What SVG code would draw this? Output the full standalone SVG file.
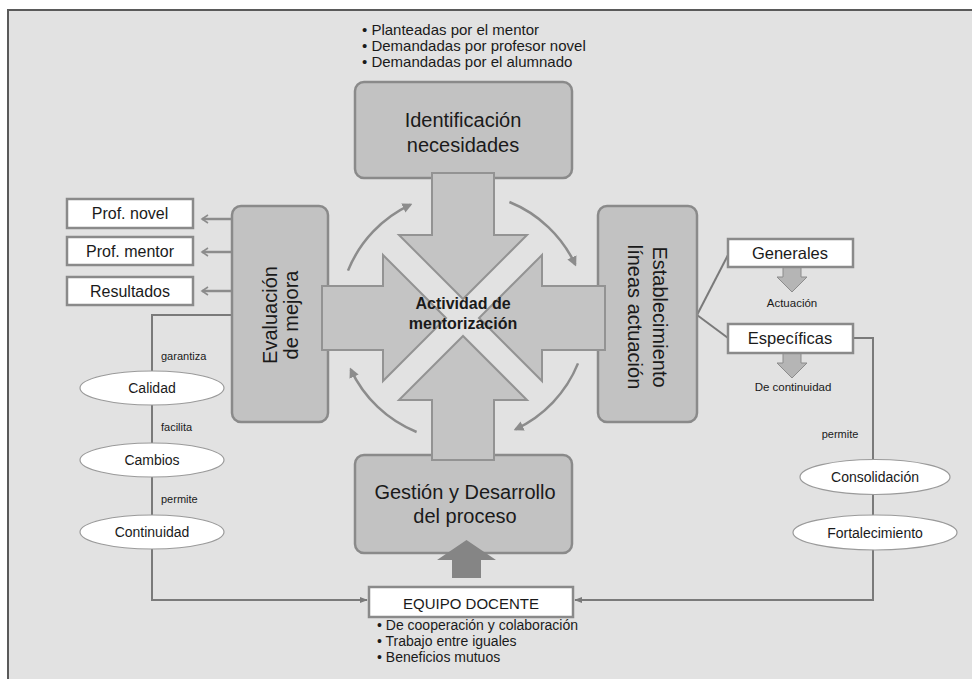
<svg xmlns="http://www.w3.org/2000/svg" width="972" height="679" viewBox="0 0 972 679">
<defs>
<style>
text{font-family:"Liberation Sans",Arial,sans-serif;fill:#1a1a1a}
.box{fill:#c2c2c2;stroke:#8a8a8a;stroke-width:2.5}
.wbox{fill:#ffffff;stroke:#8a8a8a;stroke-width:2.5}
.ell{fill:#ffffff;stroke:#9a9a9a;stroke-width:1.2}
.big{fill:#c4c4c4;stroke:#939393;stroke-width:2}
.conn{fill:none;stroke:#7a7a7a;stroke-width:2}
.arc{fill:none;stroke:#8c8c8c;stroke-width:2.5}
.t20{font-size:20px;text-anchor:middle}
.t16{font-size:16px;text-anchor:middle}
.t14{font-size:14px;text-anchor:middle}
.lbl{font-size:11px}
.bul{font-size:15px}
</style>
<marker id="tri" viewBox="0 0 10 10" refX="8" refY="5" markerWidth="4" markerHeight="4" orient="auto" markerUnits="strokeWidth"><path d="M0,0 L10,5 L0,10 z" fill="#8c8c8c"/></marker>
<marker id="tri2" viewBox="0 0 10 10" refX="9" refY="5" markerWidth="4" markerHeight="4" orient="auto" markerUnits="strokeWidth"><path d="M0,1 L10,5 L0,9 z" fill="#7a7a7a"/></marker>
<marker id="chev" viewBox="0 0 10 10" refX="8" refY="5" markerWidth="4" markerHeight="4" orient="auto" markerUnits="strokeWidth"><path d="M2,1 L8,5 L2,9" fill="none" stroke="#8c8c8c" stroke-width="1.6"/></marker>
</defs>
<rect x="0" y="0" width="972" height="679" fill="#ffffff"/>
<rect x="8" y="10" width="980" height="690" fill="#e2e2e2" stroke="#5a5a5a" stroke-width="2"/>

<g id="connectors">
<polyline class="conn" points="232,315 152,315 152,600 367,600" marker-end="url(#tri2)"/>
<polyline class="conn" points="853,338 873,338 873,600 575,600" marker-end="url(#tri2)"/>
<line class="conn" x1="697" y1="315" x2="728" y2="255" stroke="#8a8a8a"/>
<line class="conn" x1="697" y1="315" x2="728" y2="338" stroke="#8a8a8a"/>
<line class="arc" x1="232" y1="219" x2="202" y2="219" marker-end="url(#chev)"/>
<line class="arc" x1="232" y1="252" x2="202" y2="252" marker-end="url(#chev)"/>
<line class="arc" x1="232" y1="291" x2="202" y2="291" marker-end="url(#chev)"/>
<path class="arc" d="M348,270.6 A124,124 0 0 1 410.6,204.7" marker-end="url(#tri)"/>
<path class="arc" d="M509.4,202 A124,124 0 0 1 575.3,264.6" marker-end="url(#tri)"/>
<path class="arc" d="M578,363.4 A124,124 0 0 1 515.4,429.3" marker-end="url(#tri)"/>
<path class="arc" d="M416.6,432 A124,124 0 0 1 350.7,369.4" marker-end="url(#tri)"/>
<polygon points="783,267 801,267 801,277 807,277 792,292 777,277 783,277" fill="#b5b5b5" stroke="#8c8c8c" stroke-width="1"/>
<polygon points="783,353 801,353 801,363 807,363 792,378 777,363 783,363" fill="#b5b5b5" stroke="#8c8c8c" stroke-width="1"/>
</g>

<g id="bullets-top">
<text class="bul" x="362" y="35">• Planteadas por el mentor</text>
<text class="bul" x="362" y="51">• Demandadas por profesor novel</text>
<text class="bul" x="362" y="67">• Demandadas por el alumnado</text>
</g>

<g id="identificacion">
<rect class="box" x="355" y="82" width="217" height="96" rx="9"/>
<text class="t20" x="463" y="127">Identificación</text>
<text class="t20" x="463" y="152">necesidades</text>
</g>

<g id="evaluacion">
<rect class="box" x="232" y="206" width="96" height="216" rx="9"/>
<text class="t20" transform="translate(277,315) rotate(-90)">Evaluación</text>
<text class="t20" transform="translate(298,315) rotate(-90)">de mejora</text>
</g>

<g id="establecimiento">
<rect class="box" x="598" y="206" width="99" height="216" rx="9"/>
<text class="t20" transform="translate(653,317) rotate(90)">Establecimiento</text>
<text class="t20" transform="translate(628,317) rotate(90)">líneas actuación</text>
</g>

<g id="gestion">
<rect class="box" x="355" y="455" width="217" height="98" rx="9"/>
<text class="t20" x="465" y="499">Gestión y Desarrollo</text>
<text class="t20" x="465" y="523">del proceso</text>
</g>

<g id="equipo-arrow">
<polygon points="452,578 481,578 481,560 496,560 466.5,540 437,560 452,560" fill="#858585"/>
</g>

<g id="actividad">
<polygon class="big" points="432,173 494,173 494,235 527,235 463,299 399,235 432,235"/>
<polygon class="big" points="432,460 494,460 494,400 527,400 463,336 399,400 432,400"/>
<polygon class="big" points="322,286 383,286 383,255 446,318 383,381 383,350 322,350"/>
<polygon class="big" points="605,286 542,286 542,255 479,318 542,381 542,350 605,350"/>
<text x="463" y="309" style="font-size:16px;font-weight:bold;text-anchor:middle">Actividad de</text>
<text x="463" y="329" style="font-size:16px;font-weight:bold;text-anchor:middle">mentorización</text>
</g>

<g id="prof-novel">
<rect class="wbox" x="67" y="199" width="126" height="29"/>
<text class="t16" x="130" y="219">Prof. novel</text>
</g>
<g id="prof-mentor">
<rect class="wbox" x="67" y="237" width="126" height="28"/>
<text class="t16" x="130" y="257">Prof. mentor</text>
</g>
<g id="resultados">
<rect class="wbox" x="67" y="277" width="126" height="28"/>
<text class="t16" x="130" y="297">Resultados</text>
</g>

<g id="generales">
<rect class="wbox" x="728" y="239" width="125" height="28"/>
<text x="790" y="259" style="font-size:16.5px;text-anchor:middle">Generales</text>
<text x="792" y="307" style="font-size:11.5px;text-anchor:middle">Actuación</text>
</g>
<g id="especificas">
<rect class="wbox" x="728" y="324" width="125" height="29"/>
<text x="790" y="344" style="font-size:16.5px;text-anchor:middle">Específicas</text>
<text x="793" y="391" style="font-size:11.5px;text-anchor:middle">De continuidad</text>
</g>

<g id="calidad">
<text class="lbl" x="161" y="360">garantiza</text>
<ellipse class="ell" cx="152" cy="388" rx="72" ry="17"/>
<text class="t14" x="152" y="393">Calidad</text>
</g>
<g id="cambios">
<text class="lbl" x="161" y="431">facilita</text>
<ellipse class="ell" cx="152" cy="460" rx="72" ry="17"/>
<text class="t14" x="152" y="465">Cambios</text>
</g>
<g id="continuidad">
<text class="lbl" x="161" y="503">permite</text>
<ellipse class="ell" cx="152" cy="532" rx="72" ry="17"/>
<text class="t14" x="152" y="537">Continuidad</text>
</g>

<g id="consolidacion">
<text class="lbl" x="840" y="438" style="text-anchor:middle">permite</text>
<ellipse class="ell" cx="875" cy="477" rx="75" ry="17.5"/>
<text class="t14" x="875" y="482">Consolidación</text>
</g>
<g id="fortalecimiento">
<ellipse class="ell" cx="875" cy="532.5" rx="82" ry="17.5"/>
<text class="t14" x="875" y="537.5">Fortalecimiento</text>
</g>

<g id="equipo-docente">
<rect class="wbox" x="369" y="587" width="204" height="30"/>
<text x="471" y="609" style="font-size:15px;text-anchor:middle">EQUIPO DOCENTE</text>
<text x="377" y="630" style="font-size:14px">• De cooperación y colaboración</text>
<text x="377" y="646" style="font-size:14px">• Trabajo entre iguales</text>
<text x="377" y="662" style="font-size:14px">• Beneficios mutuos</text>
</g>
</svg>
